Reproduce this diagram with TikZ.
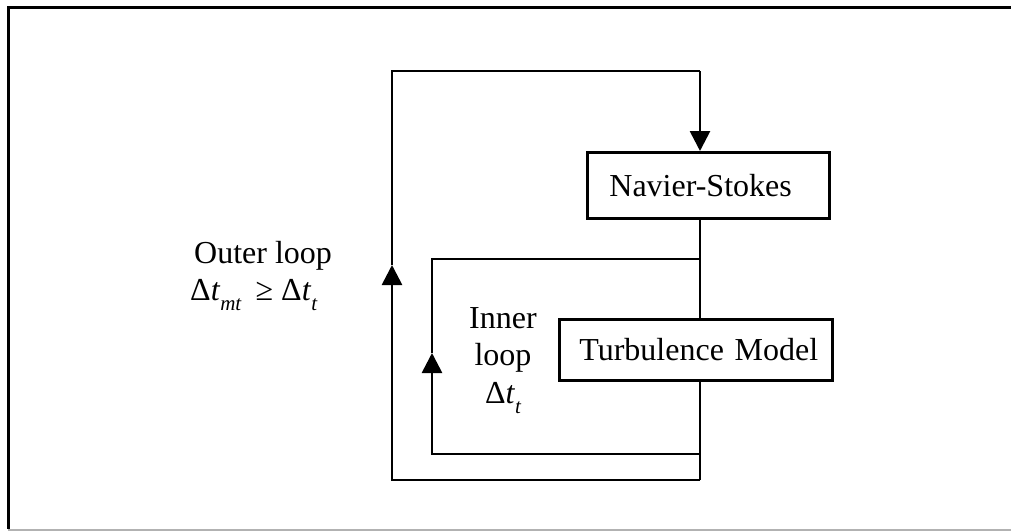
\documentclass[tikz,border=0pt]{standalone}
\usepackage{fontspec}
\setmainfont{Liberation Serif}
\usetikzlibrary{arrows.meta}
\newcommand\lsub[1]{\raisebox{-0.33em}{\fontsize{21}{21}\selectfont\itshape #1}}
\begin{document}
\begin{tikzpicture}[x=1pt,y=-1pt,
  conn/.style={line width=2.7pt},
  box/.style={draw, line width=2.8pt, rectangle, align=left, font=\fontsize{32}{37.5}\selectfont},
  tip/.style={-{Triangle[width=20pt,length=20pt]}},
  lbl/.style={font=\fontsize{32}{37.5}\selectfont}]
\useasboundingbox (0,0) rectangle (1011,531);
\clip (0,0) rectangle (1011,531);
% frame
\draw[line width=3pt] (1020,7) -- (8,7) -- (8,529);
\draw[line width=1.5pt, gray!60] (8,530) -- (1020,530);
% boxes
\node[box, anchor=north west, text width=198pt, inner xsep=22pt, minimum height=66pt] (ns) at (586,151) {Navier-Stokes};
\node[box, anchor=north west, text width=245pt, inner xsep=14pt, minimum height=61pt] (tm) at (558,318) {\hspace*{6pt}Turbulence~Model};
% coordinates
\coordinate (spine) at (700,0);
\coordinate (ob) at (700,480);
\coordinate (ib) at (700,454);
\coordinate (it) at (700,259);
\coordinate (ibl) at (432,454);
\coordinate (itip) at (432,353);
\coordinate (itl) at (432,259);
\coordinate (obl) at (392,480);
\coordinate (otip) at (392,265);
\coordinate (otl) at (392,71);
\coordinate (otr) at (700,71);
% spine
\draw[conn] (ns.south -| spine) -- (tm.north -| spine);
\draw[conn] (tm.south -| spine) -- (ob);
% inner loop
\draw[conn, tip] (ib) -- (ibl) -- (itip);
\draw[conn] (itip) -- (itl) -- (it);
% outer loop
\draw[conn, tip] (ob) -- (obl) -- (otip);
\draw[conn] (otip) -- (otl) -- (otr);
\draw[conn, tip] (otr) -- (ns.north -| spine);
% labels
\node[lbl, anchor=base west, inner sep=0pt] (outer) at (194,263) {Outer loop};
\node[lbl, anchor=base west, inner sep=0pt] (outerdt) at (190,300) {Δ\textit{t}\lsub{mt}\hspace{0.45em}≥ Δ\textit{t}\lsub{t}};
\node[lbl, align=center, anchor=base, inner sep=0pt] (inner) at (503,403) {Inner\\loop\\Δ\textit{t}\lsub{t}};
\end{tikzpicture}
\end{document}
